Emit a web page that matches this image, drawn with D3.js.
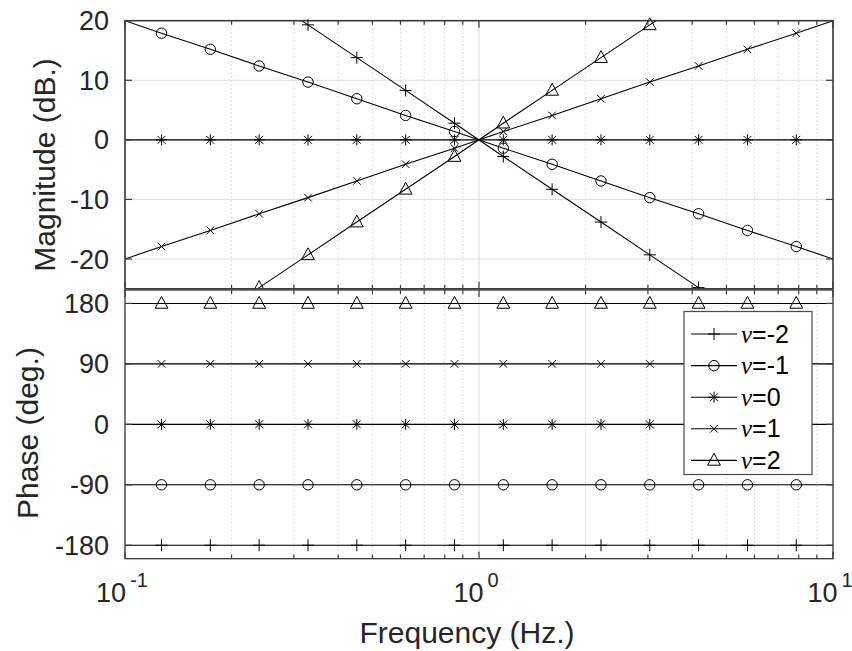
<!DOCTYPE html>
<html>
<head>
<meta charset="utf-8">
<script src="https://cdn.jsdelivr.net/npm/d3@7"></script>
<style>
    body { margin: 0; background: #fff; }
    svg { display: block; font-family: "Liberation Sans", Arial, Helvetica, sans-serif; }
</style>
</head>
<body>
<svg id="viz" width="852" height="651"></svg>
<script>
// frequencies (Hz) -- the end points carry only the line, the rest carry markers
var freq = [0.1, 0.1268, 0.1742, 0.2393, 0.3288, 0.4517, 0.6206, 0.8526,
    1.1713, 1.609, 2.211, 3.037, 4.172, 5.732, 7.875, 10];

// magnitude (dB) for each nu
var magNuM2 = [40, 35.9, 30.3, 24.8, 19.3, 13.8, 8.3, 2.8, -2.8, -8.3, -13.8, -19.3, -24.8, -30.3, -35.9, -40];
var magNuM1 = [20, 17.9, 15.2, 12.4, 9.7, 6.9, 4.1, 1.4, -1.4, -4.1, -6.9, -9.7, -12.4, -15.2, -17.9, -20];
var magNu0 = [0, 0, 0, 0, 0, 0, 0, 0, 0, 0, 0, 0, 0, 0, 0, 0];
var magNu1 = [-20, -17.9, -15.2, -12.4, -9.7, -6.9, -4.1, -1.4, 1.4, 4.1, 6.9, 9.7, 12.4, 15.2, 17.9, 20];
var magNu2 = [-40, -35.9, -30.3, -24.8, -19.3, -13.8, -8.3, -2.8, 2.8, 8.3, 13.8, 19.3, 24.8, 30.3, 35.9, 40];

// phase (deg.) for each nu
var phNuM2 = [-180, -180, -180, -180, -180, -180, -180, -180, -180, -180, -180, -180, -180, -180, -180, -180];
var phNuM1 = [-90, -90, -90, -90, -90, -90, -90, -90, -90, -90, -90, -90, -90, -90, -90, -90];
var phNu0 = [0, 0, 0, 0, 0, 0, 0, 0, 0, 0, 0, 0, 0, 0, 0, 0];
var phNu1 = [90, 90, 90, 90, 90, 90, 90, 90, 90, 90, 90, 90, 90, 90, 90, 90];
var phNu2 = [180, 180, 180, 180, 180, 180, 180, 180, 180, 180, 180, 180, 180, 180, 180, 180];

var nuNames = ["-2", "-1", "0", "1", "2"];
var magTicks = [-20, -10, 0, 10, 20];
var phaseTicks = [-180, -90, 0, 90, 180];
var decadeExp = [-1, 0, 1];

window.addEventListener("load", run);

function run() {
    var svg = d3.select("#viz");
    var left = 125, right = 833;
    var boxColor = "#3a3a3a";
    var tickFont = 27, labelFont = 30;

    // marker shapes, size = half width in px
    var markerTypes = [
        { draw: function (c, s) { c.moveTo(-s, 0); c.lineTo(s, 0); c.moveTo(0, -s); c.lineTo(0, s); } },
        { draw: function (c, s) { c.moveTo(s, 0); c.arc(0, 0, s, 0, 2 * Math.PI); } },
        { draw: function (c, s) {
            var d = s * 0.72;
            c.moveTo(-s, 0); c.lineTo(s, 0); c.moveTo(0, -s); c.lineTo(0, s);
            c.moveTo(-d, -d); c.lineTo(d, d); c.moveTo(-d, d); c.lineTo(d, -d);
        } },
        { draw: function (c, s) { c.moveTo(-s, -s); c.lineTo(s, s); c.moveTo(-s, s); c.lineTo(s, -s); } },
        { draw: function (c, s) { c.moveTo(0, -s * 1.1); c.lineTo(s, s * 0.75); c.lineTo(-s, s * 0.75); c.closePath(); } }
    ];
    var markerSizes = [6, 5.2, 5.5, 3.8, 6.4];

    var x = d3.scaleLog().domain([0.1, 10]).range([left, right]);
    var xTicks = x.ticks();

    var panels = [
        { top: 20.7, bottom: 288.8, domain: [-25, 20], ticks: magTicks,
          series: [magNuM2, magNuM1, magNu0, magNu1, magNu2], label: "Magnitude (dB.)", labelX: 55, labelY: 165 },
        { top: 290, bottom: 558.7, domain: [-200, 200], ticks: phaseTicks,
          series: [phNuM2, phNuM1, phNu0, phNu1, phNu2], label: "Phase (deg.)", labelX: 38, labelY: 433 }
    ];

    panels.forEach(function (p, pi) {
        var y = d3.scaleLinear().domain(p.domain).range([p.bottom, p.top]);
        var g = svg.append("g");
        var clipId = "clip" + pi;

        g.append("clipPath").attr("id", clipId)
            .append("rect")
            .attr("x", left).attr("y", p.top)
            .attr("width", right - left).attr("height", p.bottom - p.top);

        // white background so the lower axes hide what spills from the upper one
        g.append("rect")
            .attr("x", left).attr("y", p.top)
            .attr("width", right - left).attr("height", p.bottom - p.top)
            .style("fill", "#fff");

        // minor grid (dotted) and major grid
        xTicks.forEach(function (t) {
            var major = Math.abs(Math.log10(t) - Math.round(Math.log10(t))) < 1e-9;
            g.append("line")
                .attr("x1", x(t)).attr("x2", x(t))
                .attr("y1", p.top).attr("y2", p.bottom)
                .style("stroke", major ? "#dcdcdc" : "#c4c4c4")
                .style("stroke-width", 1)
                .style("stroke-dasharray", major ? null : "1,3");
        });
        p.ticks.forEach(function (t) {
            g.append("line")
                .attr("x1", left).attr("x2", right)
                .attr("y1", y(t)).attr("y2", y(t))
                .style("stroke", "#dcdcdc")
                .style("stroke-width", 1);
        });

        // data lines
        var line = d3.line()
            .x(function (d, i) { return x(freq[i]); })
            .y(function (d) { return y(d); });

        p.series.forEach(function (s) {
            g.append("path")
                .attr("d", line(s))
                .attr("clip-path", "url(#" + clipId + ")")
                .style("fill", "none")
                .style("stroke", "#000")
                .style("stroke-width", 1.1);
        });

        // markers (skip the line end points, drop ones outside the y range)
        p.series.forEach(function (s, si) {
            var sym = d3.symbol().type(markerTypes[si]).size(markerSizes[si]);
            s.forEach(function (v, i) {
                if (i === 0 || i === s.length - 1) return;
                if (v < p.domain[0] || v > p.domain[1]) return;
                g.append("path")
                    .attr("d", sym())
                    .attr("transform", "translate(" + x(freq[i]) + "," + y(v) + ")")
                    .style("fill", "none")
                    .style("stroke", "#000")
                    .style("stroke-width", 1);
            });
        });

        // box
        g.append("rect")
            .attr("x", left).attr("y", p.top)
            .attr("width", right - left).attr("height", p.bottom - p.top)
            .style("fill", "none")
            .style("stroke", boxColor)
            .style("stroke-width", pi === 0 ? 1.6 : 1.3);

        // x ticks top and bottom
        xTicks.forEach(function (t) {
            var major = Math.abs(Math.log10(t) - Math.round(Math.log10(t))) < 1e-9;
            var len = major ? 7 : 4;
            [[p.top, p.top + len], [p.bottom, p.bottom - len]].forEach(function (yy) {
                g.append("line")
                    .attr("x1", x(t)).attr("x2", x(t))
                    .attr("y1", yy[0]).attr("y2", yy[1])
                    .style("stroke", boxColor)
                    .style("stroke-width", 1.2);
            });
        });

        // y ticks left and right, labels on the left
        p.ticks.forEach(function (t) {
            [[left, left + 7], [right, right - 7]].forEach(function (xx) {
                g.append("line")
                    .attr("x1", xx[0]).attr("x2", xx[1])
                    .attr("y1", y(t)).attr("y2", y(t))
                    .style("stroke", boxColor)
                    .style("stroke-width", 1.2);
            });
            g.append("text")
                .attr("x", left - 16)
                .attr("y", y(t) + 9.6)
                .style("text-anchor", "end")
                .style("font-size", tickFont + "px")
                .style("fill", "#262626")
                .text(t);
        });

        // y axis title
        g.append("text")
            .attr("transform", "translate(" + p.labelX + "," + p.labelY + ") rotate(-90)")
            .style("text-anchor", "middle")
            .style("font-size", labelFont + "px")
            .style("fill", "#262626")
            .text(p.label);
    });

    // x tick labels 10^n
    decadeExp.forEach(function (e) {
        var t = svg.append("text")
            .attr("x", x(Math.pow(10, e)) - 3)
            .attr("y", 601.7)
            .style("text-anchor", "middle")
            .style("font-size", tickFont + "px")
            .style("fill", "#262626");
        t.append("tspan").text("10");
        t.append("tspan")
            .attr("dx", 4)
            .attr("dy", -15)
            .style("font-size", "20px")
            .text(e);
    });

    svg.append("text")
        .attr("x", 467)
        .attr("y", 643)
        .style("text-anchor", "middle")
        .style("font-size", labelFont + "px")
        .style("fill", "#262626")
        .text("Frequency (Hz.)");

    // legend
    var lg = svg.append("g");
    lg.append("rect")
        .attr("x", 684).attr("y", 311.5)
        .attr("width", 128).attr("height", 163)
        .style("fill", "#fff")
        .style("stroke", "#4a4a4a")
        .style("stroke-width", 1.2);

    nuNames.forEach(function (name, i) {
        var yy = 334 + i * 31.6;
        lg.append("line")
            .attr("x1", 691).attr("x2", 737)
            .attr("y1", yy).attr("y2", yy)
            .style("stroke", "#000")
            .style("stroke-width", 1.1);
        lg.append("path")
            .attr("d", d3.symbol().type(markerTypes[i]).size(markerSizes[i])())
            .attr("transform", "translate(714," + yy + ")")
            .style("fill", "none")
            .style("stroke", "#000")
            .style("stroke-width", 1);
        var t = lg.append("text")
            .attr("x", 741)
            .attr("y", yy + 8.5)
            .style("font-size", "25px")
            .style("fill", "#000");
        t.append("tspan")
            .style("font-family", "'Liberation Serif', 'DejaVu Serif', serif")
            .style("font-style", "italic")
            .text("\u03bd");
        t.append("tspan").text("=" + name);
    });
}
</script>
</body>
</html>
